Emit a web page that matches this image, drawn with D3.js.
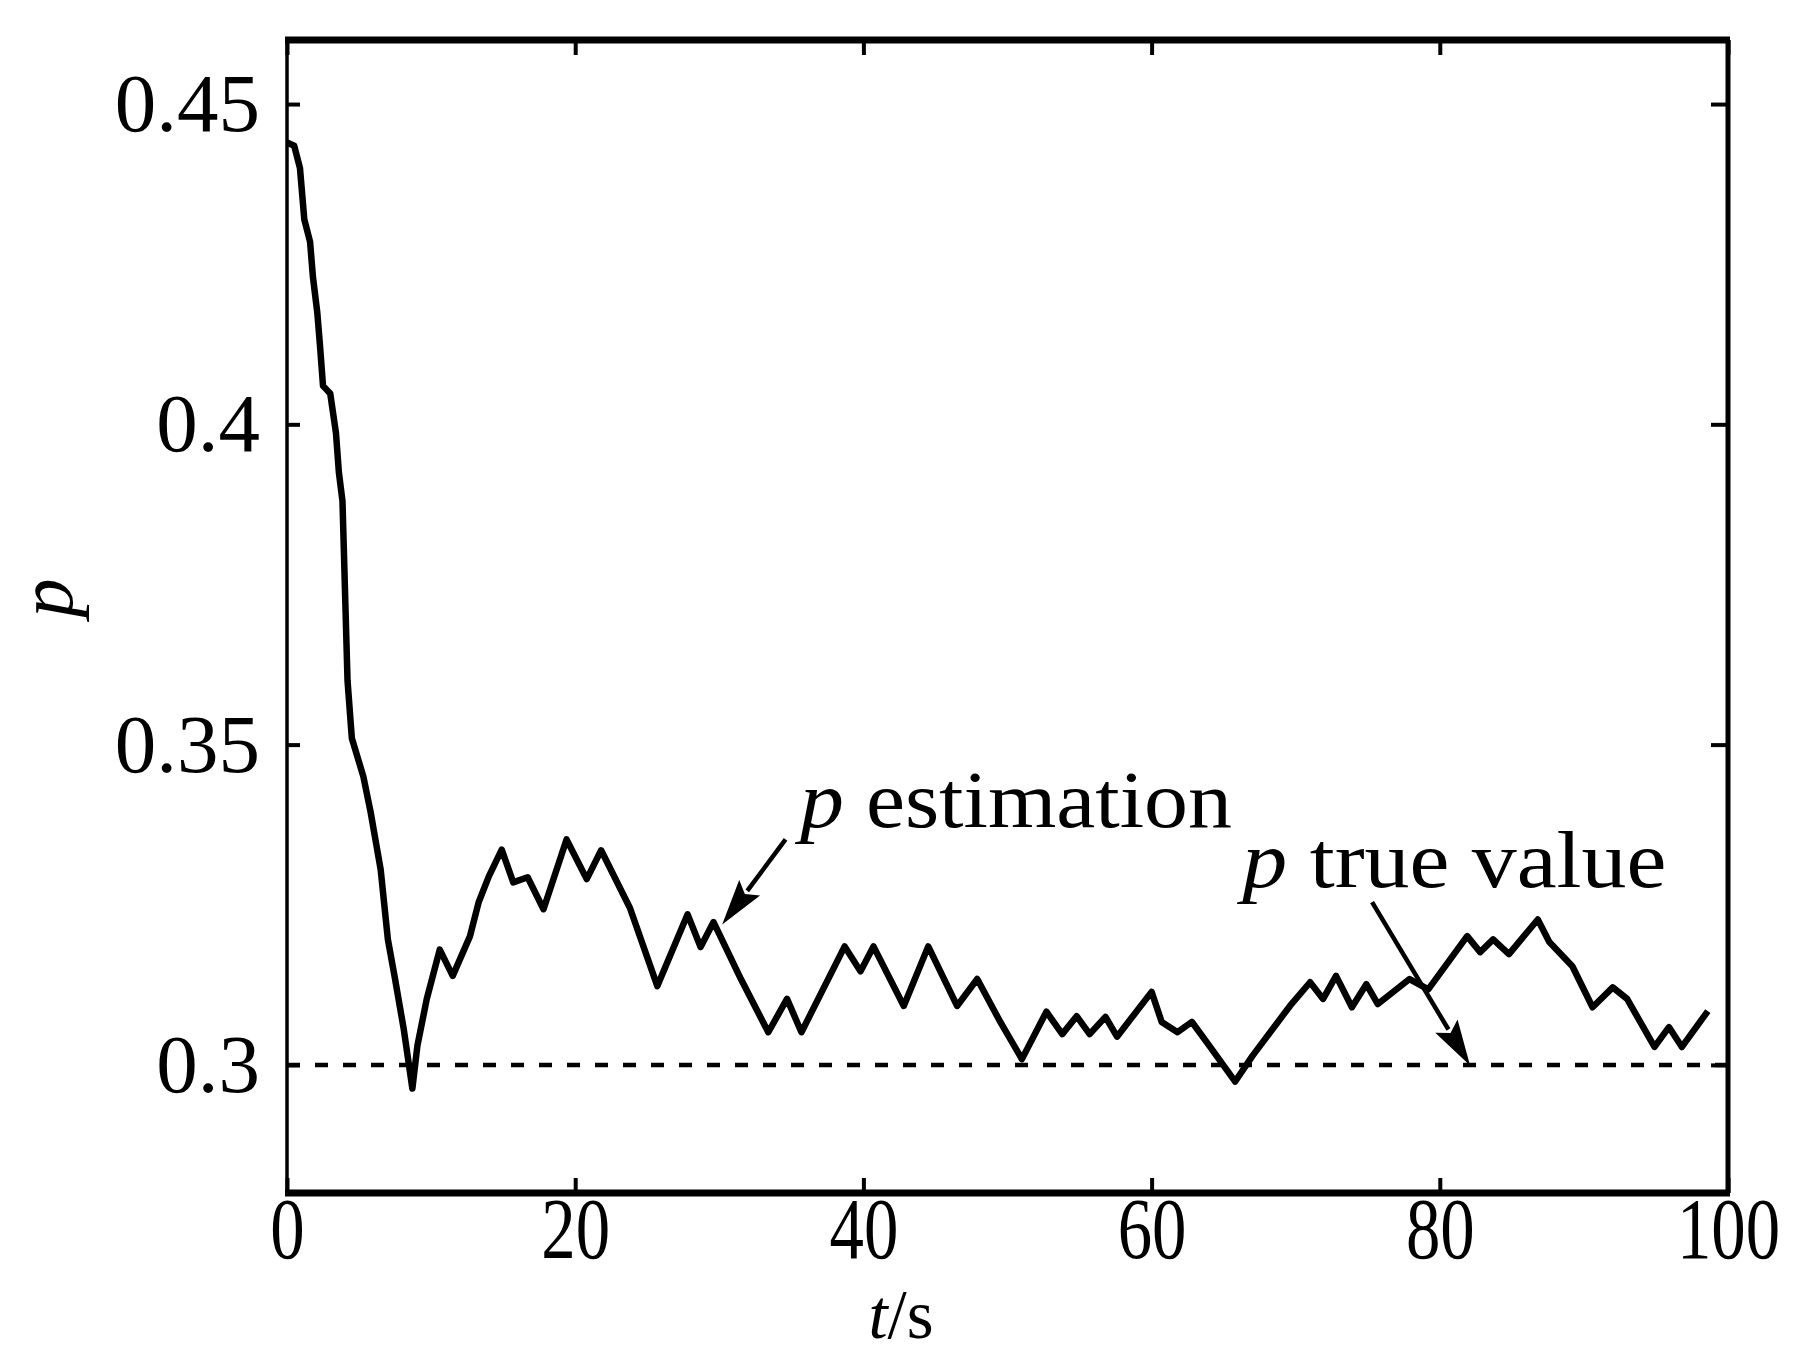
<!DOCTYPE html>
<html><head><meta charset="utf-8">
<script src="https://cdn.jsdelivr.net/npm/d3@7"></script>
<style>
body{margin:0;background:#fff}
svg{display:block}
text{font-family:"Liberation Serif","Times New Roman",serif;fill:#000}
</style>
</head><body>
<svg id="chart" width="1796" height="1353"></svg>
<script>
// ---- data ----
const timeS = [0,0.5,0.9,1.2,1.6,1.8,2.1,2.3,2.5,3.0,3.4,3.6,3.85,4.0,4.2,4.5,5.3,5.8,6.5,7.0,7.5,8.1,8.7,9.05,9.7,10.6,11.5,12.7,13.3,14.0,14.9,15.7,16.7,17.8,19.4,20.8,21.8,23.8,25.7,27.8,28.7,29.6,31.5,33.4,34.7,35.7,38.7,39.8,40.7,42.8,44.5,46.5,47.9,49.5,51.0,52.7,53.8,54.8,55.7,56.8,57.6,60.0,60.7,61.8,62.8,64.0,65.8,67.0,68.4,69.6,71.0,71.9,72.8,73.9,74.9,75.7,77.9,79.2,81.9,82.8,83.7,84.8,86.8,87.6,89.2,90.6,92.0,93.0,94.9,95.9,96.8,98.6];
const pEstimation = [0.4440,0.4435,0.4400,0.4320,0.4285,0.4230,0.4175,0.4120,0.4060,0.4048,0.3986,0.3925,0.3880,0.3760,0.3600,0.3510,0.3450,0.3395,0.3305,0.3196,0.3134,0.3056,0.2963,0.3030,0.3103,0.3180,0.3139,0.3201,0.3254,0.3294,0.3336,0.3285,0.3293,0.3243,0.3352,0.3290,0.3335,0.3245,0.3123,0.3235,0.3184,0.3223,0.3134,0.3051,0.3103,0.3051,0.3185,0.3146,0.3185,0.3092,0.3185,0.3092,0.3134,0.3067,0.3009,0.3083,0.3048,0.3076,0.3048,0.3075,0.3044,0.3114,0.3067,0.3051,0.3067,0.3030,0.2974,0.3014,0.3056,0.3092,0.3129,0.3103,0.3139,0.3090,0.3126,0.3095,0.3134,0.3118,0.3201,0.3176,0.3196,0.3173,0.3227,0.3192,0.3154,0.3090,0.3121,0.3103,0.3028,0.3059,0.3028,0.3084];
const pTrueValue = 0.3;
const xTickValues = [0,20,40,60,80,100];
const xTickLabels = ["0","20","40","60","80","100"];
const yTickValues = [0.3,0.35,0.4,0.45];
const yTickLabels = ["0.3","0.35","0.4","0.45"];
const xDomain = [0,100];
const yDomain = [0.28,0.46];

// ---- layout ----
const L = 287, R = 1728, T = 40, B = 1193;
const svg = d3.select("#chart");
const x = d3.scaleLinear().domain(xDomain).range([L, R]);
const y = d3.scaleLinear().domain(yDomain).range([B, T]);

// axes (inward ticks)
const gB = svg.append("g").attr("transform",`translate(0,${B})`)
  .call(d3.axisBottom(x).tickValues(xTickValues).tickSize(-15).tickPadding(4)
    .tickFormat((d,i)=>xTickLabels[i]));
gB.selectAll(".tick text").attr("font-size",86).attr("transform","scale(0.8,1)");
const gT = svg.append("g").attr("transform",`translate(0,${T})`)
  .call(d3.axisTop(x).tickValues(xTickValues).tickSize(-15).tickFormat(""));
const gL = svg.append("g").attr("transform",`translate(${L},0)`)
  .call(d3.axisLeft(y).tickValues(yTickValues).tickSize(-13).tickPadding(27)
    .tickFormat((d,i)=>yTickLabels[i]));
gL.selectAll(".tick text").attr("font-size",83);
const gR = svg.append("g").attr("transform",`translate(${R},0)`)
  .call(d3.axisRight(y).tickValues(yTickValues).tickSize(-17).tickFormat(""));
[gB,gT,gL,gR].forEach(g=>{
  g.select(".domain").remove();
  g.selectAll(".tick line").attr("stroke","#000").attr("stroke-width",4);
  g.attr("font-family",null);
});

// frame
svg.append("line").attr("x1",L).attr("x2",L).attr("y1",T).attr("y2",B).attr("stroke","#000").attr("stroke-width",3.5);
svg.append("line").attr("x1",R).attr("x2",R).attr("y1",T).attr("y2",B).attr("stroke","#000").attr("stroke-width",5);
svg.append("line").attr("x1",L-2).attr("x2",R+2).attr("y1",T).attr("y2",T).attr("stroke","#000").attr("stroke-width",7);
svg.append("line").attr("x1",L-2).attr("x2",R+2).attr("y1",B).attr("y2",B).attr("stroke","#000").attr("stroke-width",7);

// true value dashed line
svg.append("line").attr("x1",x(0)).attr("x2",x(100)).attr("y1",y(pTrueValue)).attr("y2",y(pTrueValue))
  .attr("stroke","#000").attr("stroke-width",4.5).attr("stroke-dasharray","13,15");

// estimation curve
const pts = timeS.map((t,i)=>[t,pEstimation[i]]);
svg.append("path").datum(pts)
  .attr("d", d3.line().x(d=>x(d[0])).y(d=>y(d[1])))
  .attr("fill","none").attr("stroke","#000").attr("stroke-width",6.5)
  .attr("stroke-linejoin","round");

// annotations
function arrow(t0,v0,t1,v1){
  const x0=x(t0), y0=y(v0), x1=x(t1), y1=y(v1);
  const dx=x1-x0, dy=y1-y0, len=Math.hypot(dx,dy), ux=dx/len, uy=dy/len;
  const hl=46, hw=13;
  const bx=x1-ux*hl, by=y1-uy*hl;
  svg.append("line").attr("x1",x0).attr("y1",y0).attr("x2",bx+ux*4).attr("y2",by+uy*4)
    .attr("stroke","#000").attr("stroke-width",4.5);
  svg.append("path").attr("d",`M${x1},${y1}L${bx-uy*hw},${by+ux*hw}L${bx+ux*8},${by+uy*8}L${bx+uy*hw},${by-ux*hw}Z`)
    .attr("fill","#000");
}
function label(t,v,rest,width){
  const tx = svg.append("text").attr("x",x(t)).attr("y",y(v)).attr("font-size",80)
    .attr("textLength",width).attr("lengthAdjust","spacingAndGlyphs");
  tx.append("tspan").attr("font-style","italic").text("p");
  tx.append("tspan").text(" "+rest);
}
arrow(34.6,0.3352,30.2,0.3219);
label(35.6,0.3371,"estimation",432);
arrow(75.3,0.3254,82.1,0.2999);
label(66.3,0.3277,"true value",424);

// axis titles
svg.append("text").attr("transform","translate(72,598) rotate(-90)")
  .attr("text-anchor","middle").attr("font-size",78).attr("font-style","italic").text("p");
const xl = svg.append("text").attr("x",901).attr("y",1338).attr("text-anchor","middle").attr("font-size",69);
xl.append("tspan").attr("font-style","italic").text("t");
xl.append("tspan").text("/s");
</script>
</body></html>
